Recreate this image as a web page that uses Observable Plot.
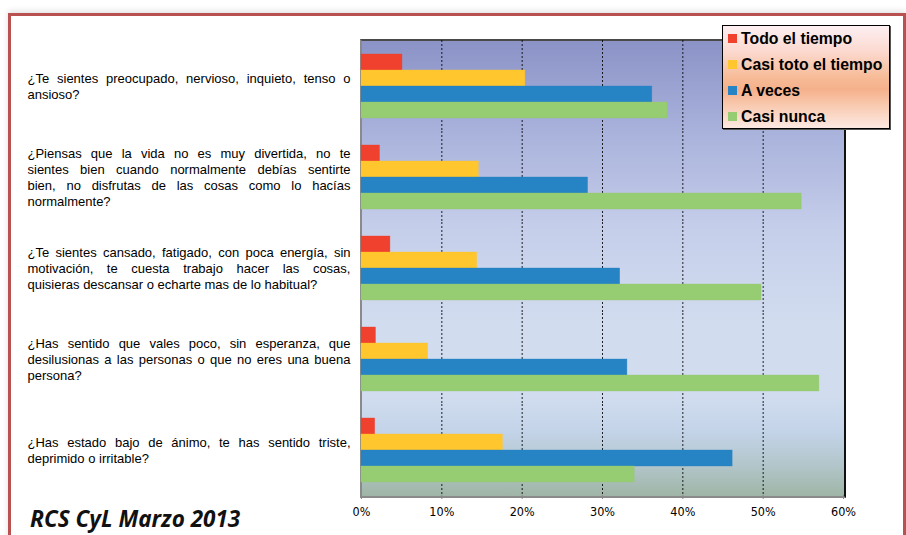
<!DOCTYPE html>
<html>
<head>
<meta charset="utf-8">
<script src="https://cdn.jsdelivr.net/npm/d3@7"></script>
<script src="https://cdn.jsdelivr.net/npm/@observablehq/plot@0.6"></script>
<style>
  html, body { margin: 0; padding: 0; background: #fff; }
  #wrap { position: relative; width: 906px; height: 535px; overflow: hidden; background: #fff; }
  #outer { position: absolute; left: 8px; top: 13px; width: 892px; height: 600px; border: 3px solid #b8514f; box-shadow: 0 -2px 6px rgba(0,0,0,0.12); }
  #bg { position: absolute; left: 360px; top: 39px; width: 482px; height: 455px;
        border-top: 2px solid #4a4a4a; border-right: 2px solid #111; border-left: 2px solid #8a8a8a; border-bottom: 2px solid #8a8a8a;
        background: linear-gradient(to bottom, #8b93c7 0%, #a9b2db 20%, #c6cfea 42%, #d1dcef 62%, #d1ddef 78%, #c3d3e8 86%, #b3c6cb 93%, #9fb5a6 100%); }
  #chart { position: absolute; left: 0; top: 0; }
  #legend { position: absolute; left: 722px; top: 25px; width: 166px; height: 102px; border: 1px solid #000;
            box-shadow: 1px 1px 0 #555;
            background: linear-gradient(to bottom, #fdeff2 0%, #fbd9cf 25%, #f7bc98 50%, #f5b08b 62%, #f9cdb5 80%, #fde9e2 100%);
            font-family: "Liberation Sans", Arial, sans-serif; font-weight: bold; font-size: 15.8px; color: #000; }
  .item { position: absolute; left: 5px; height: 18px; line-height: 18px; white-space: nowrap; }
  .sw { display: inline-block; width: 9px; height: 9px; margin-right: 4px; vertical-align: 1px; }
  #title { position: absolute; left: 30px; top: 503px; font-family: "Noto Sans", "Open Sans", sans-serif; font-weight: bold; font-style: italic; font-size: 22.5px; color: #111; white-space: nowrap; }
</style>
</head>
<body>
<div id="wrap">
  <div id="outer"></div>
  <div id="bg"></div>
  <div id="chart"></div>
  <div id="legend"></div>
  <div id="title">RCS CyL Marzo 2013</div>
</div>
<script>
// ---- data ----
const questions = [
  "¿Te sientes preocupado, nervioso, inquieto, tenso o\nansioso?",
  "¿Piensas que la vida no es muy divertida, no te\nsientes bien cuando normalmente debías sentirte\nbien, no disfrutas de las cosas como lo hacías\nnormalmente?",
  "¿Te sientes cansado, fatigado, con poca energía, sin\nmotivación, te cuesta trabajo hacer las cosas,\nquisieras descansar o echarte mas de lo habitual?",
  "¿Has sentido que vales poco, sin esperanza, que\ndesilusionas a las personas o que no eres una buena\npersona?",
  "¿Has estado bajo de ánimo, te has sentido triste,\ndeprimido o irritable?"
];
const seriesNames = ["Todo el tiempo", "Casi toto el tiempo", "A veces", "Casi nunca"];
const todoElTiempo     = [5.1, 2.3, 3.6, 1.8, 1.7];
const casiTodoElTiempo = [20.4, 14.6, 14.4, 8.3, 17.6];
const aVeces           = [36.2, 28.2, 32.2, 33.1, 46.2];
const casiNunca        = [38.1, 54.8, 49.8, 57.0, 34.0];
const seriesColors = ["#f0402e", "#ffc62e", "#2784c4", "#96cc72"];
const xTicks = [0, 10, 20, 30, 40, 50, 60];

const seriesValues = [todoElTiempo, casiTodoElTiempo, aVeces, casiNunca];
const rows = [];
questions.forEach((q, qi) => {
  seriesNames.forEach((s, si) => rows.push({question: q, series: s, value: seriesValues[si][qi]}));
});

const plot = Plot.plot({
  width: 906,
  height: 535,
  marginLeft: 361,
  marginRight: 63,
  marginTop: 40,
  marginBottom: 40,
  style: {background: "transparent", fontFamily: "'Liberation Sans', Arial, sans-serif", fontSize: "12px", color: "#000"},
  x: {domain: [0, 60], ticks: xTicks, tickFormat: d => d + "%"},
  fy: {domain: questions, padding: 0},
  y: {domain: seriesNames, paddingInner: 0, paddingOuter: 0.72, axis: null},
  color: {domain: seriesNames, range: seriesColors},
  marks: [
    Plot.gridX({ticks: [10, 20, 30, 40, 50], stroke: "#000", strokeOpacity: 0.85, strokeWidth: 1, strokeDasharray: "2,2"}),
    Plot.barX(rows, {x: "value", y: "series", fy: "question", fill: "series", stroke: "series", strokeOpacity: 0.6, strokeWidth: 0.6}),
    Plot.axisX({anchor: "bottom", ticks: xTicks, tickFormat: d => d + "%", tickSize: 4, tickPadding: 8, stroke: "#888",
                fontFamily: "'Liberation Sans Narrow', 'DejaVu Sans Condensed', Arial, sans-serif", fontSize: 12.5, label: null}),
    Plot.axisFy({anchor: "left", tickSize: 0, tickPadding: 0, textAnchor: "start", dx: -334, lineHeight: 1.23,
                 fontSize: 13, label: null})
  ]
});
document.getElementById("chart").appendChild(plot);

// justify multi-line question labels like the original text block
const targetWidth = 323;
plot.querySelectorAll("[aria-label='fy-axis tick label'] text").forEach(t => {
  const spans = t.querySelectorAll("tspan");
  spans.forEach((sp, i) => {
    if (i === spans.length - 1) return;
    const w = sp.getComputedTextLength();
    const n = (sp.textContent.match(/ /g) || []).length;
    if (n > 0 && w < targetWidth) sp.setAttribute("word-spacing", ((targetWidth - w) / n).toFixed(2));
  });
});

// legend
const legend = document.getElementById("legend");
seriesNames.forEach((s, i) => {
  const d = document.createElement("div");
  d.className = "item";
  d.style.top = (4 + i * 26) + "px";
  d.innerHTML = `<span class="sw" style="background:${seriesColors[i]}"></span>${s}`;
  legend.appendChild(d);
});
</script>
</body>
</html>
